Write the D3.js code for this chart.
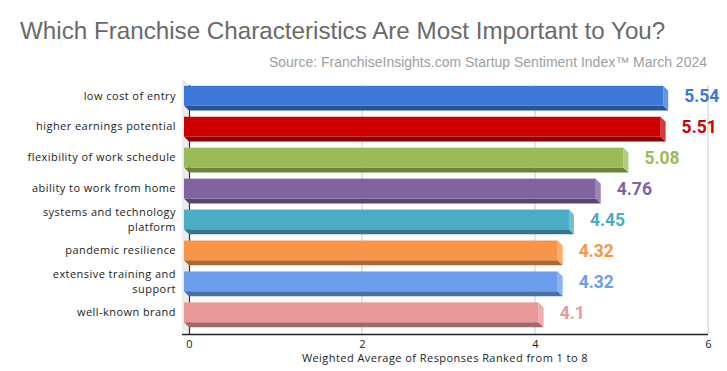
<!DOCTYPE html>
<html>
<head>
<meta charset="utf-8">
<script src="https://cdn.jsdelivr.net/npm/d3@7"></script>
<style>
  body { margin: 0; background: #fff; }
  svg { display: block; }
</style>
</head>
<body>
<svg id="chart" width="727" height="371"></svg>
<script>
var categories = ["low cost of entry", "higher earnings potential", "flexibility of work schedule",
    "ability to work from home", "systems and technology platform", "pandemic resilience",
    "extensive training and support", "well-known brand"];
var values = [5.54, 5.51, 5.08, 4.76, 4.45, 4.32, 4.32, 4.1];
var barColors = ["#3c78d8", "#cc0000", "#9bbb59", "#8064a2", "#4bacc6", "#f79646", "#6d9eeb", "#ea9999"];
var xTicks = [0, 2, 4, 6];

(function () {
    'use strict';
    var svg = d3.select('#chart');
    var depth = 5;
    var left = 189, right = 708, top = 85, bottom = 334;
    var labelStyle = 'font-family: "Open Sans"; font-size: 11px; letter-spacing: 0.45px; fill: #222;';

    var x = d3.scaleLinear().domain([0, 6]).range([left, right]);
    var y = d3.scaleBand().domain(categories).range([84, bottom]).paddingInner(0.36).paddingOuter(0.22);

    // title
    svg.append('text').attr('x', 20).attr('y', 39).text('Which Franchise Characteristics Are Most Important to You?')
        .attr('style', 'font-family: "Liberation Sans", Arial; font-size: 24.2px; fill: #6a6a6a');
    svg.append('text').attr('x', 707).attr('y', 67).text('Source: FranchiseInsights.com Startup Sentiment Index\u2122 March 2024')
        .attr('style', 'font-family: "Liberation Sans", Arial; font-size: 14px; fill: #a0a0a0; text-anchor: end');

    // back wall
    svg.append('path')
        .attr('d', d3.line()([[left - 7, top - 6], [left, top], [left, bottom], [left - 7, bottom - 6]]) + 'Z')
        .attr('fill', '#ebebeb');

    // gridlines
    var grid = svg.append('g');
    xTicks.forEach(function (t) {
        if (t === 0) return;
        grid.append('line').attr('x1', x(t)).attr('x2', x(t)).attr('y1', top).attr('y2', bottom)
            .attr('stroke', '#cccccc').attr('stroke-width', 1);
    });

    // axis lines
    svg.append('line').attr('x1', left + 0.5).attr('x2', left + 0.5).attr('y1', top).attr('y2', bottom)
        .attr('stroke', '#333').attr('stroke-width', 1.2);
    svg.append('line').attr('x1', left - 7).attr('x2', right).attr('y1', bottom + 0.5).attr('y2', bottom + 0.5)
        .attr('stroke', '#222').attr('stroke-width', 1.5);

    // x tick labels
    var xAxis = d3.axisBottom(x).tickValues(xTicks).tickFormat(d3.format('d')).tickSize(0).tickPadding(6);
    var ax = svg.append('g').attr('transform', 'translate(0,' + bottom + ')').call(xAxis);
    ax.select('.domain').remove();
    ax.selectAll('text').attr('style', labelStyle);

    svg.append('text').attr('x', 445).attr('y', 362).text('Weighted Average of Responses Ranked from 1 to 8')
        .attr('style', labelStyle + ' text-anchor: middle');

    // bars
    var bars = svg.append('g');
    categories.forEach(function (cat, i) {
        var c = barColors[i];
        var bx = x(values[i]);
        var by = y(cat);
        var h = y.bandwidth();
        var fx0 = left - depth, fx1 = bx - depth, fy0 = by - depth, fy1 = by - depth + h;
        var bottomCol = d3.color(c).darker(1.05).formatHex();
        var sideCol = d3.interpolateRgb(c, '#ffffff')(0.22);
        // bottom face
        bars.append('path').attr('d', d3.line()([[fx0, fy1], [fx1, fy1], [bx, fy1 + depth], [left, fy1 + depth]]) + 'Z')
            .attr('fill', bottomCol);
        // side face
        bars.append('path').attr('d', d3.line()([[fx1, fy0], [bx, fy0 + depth], [bx, fy1 + depth], [fx1, fy1]]) + 'Z')
            .attr('fill', sideCol);
        // front face
        bars.append('rect').attr('x', fx0).attr('y', fy0).attr('width', fx1 - fx0).attr('height', h).attr('fill', c);
        // value label
        bars.append('text').attr('x', bx + 16).attr('y', fy0 + h / 2).attr('dy', '0.36em').text(values[i])
            .attr('style', 'font-family: Roboto; font-weight: bold; font-size: 17.5px; fill: ' + c);
    });

    // category labels with wrapping
    var labels = svg.append('g');
    categories.forEach(function (cat) {
        var cy = y(cat) - depth + y.bandwidth() / 2;
        var t = labels.append('text').attr('x', 176).attr('style', labelStyle + ' text-anchor: end');
        var words = cat.split(' '), lines = [], line = [];
        var probe = labels.append('text').attr('style', labelStyle);
        words.forEach(function (w) {
            line.push(w);
            probe.text(line.join(' '));
            if (probe.node().getComputedTextLength() > 158 && line.length > 1) {
                line.pop();
                lines.push(line.join(' '));
                line = [w];
            }
        });
        lines.push(line.join(' '));
        probe.remove();
        var lh = 15;
        lines.forEach(function (l, k) {
            t.append('tspan').attr('x', 176).attr('y', cy + (k - (lines.length - 1) / 2) * lh).attr('dy', '0.35em').text(l);
        });
    });
})();
</script>
</body>
</html>
